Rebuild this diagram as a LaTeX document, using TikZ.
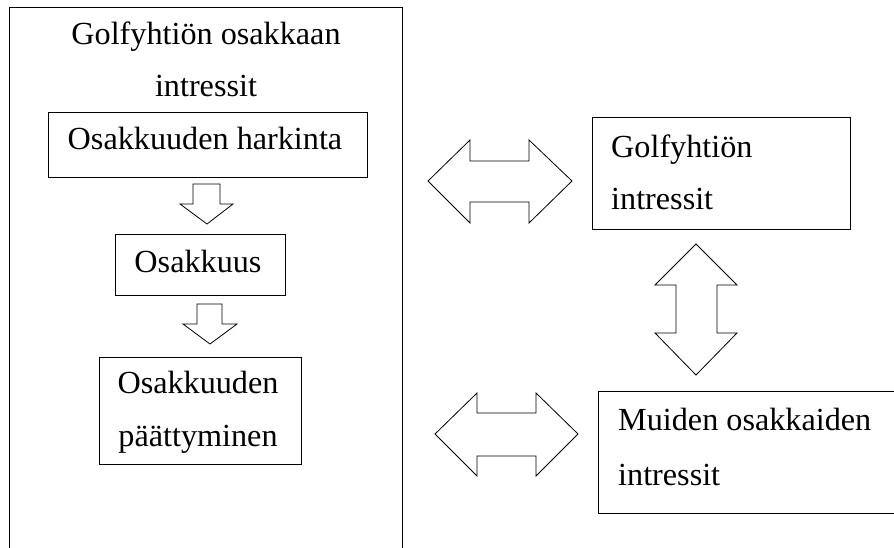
\documentclass[tikz,border=0pt]{standalone}
\usepackage{fontspec}
\setmainfont{Liberation Serif}
\begin{document}
\begin{tikzpicture}[x=1pt,y=-1pt,
  box/.style={draw, line width=1pt, inner sep=0pt, fill=none},
  framepath/.style={draw, line width=1pt},
  blockarrow/.style={draw, line width=0.8pt, fill=white, line join=miter},
  txt/.style={font=\fontsize{32.2}{40}\selectfont, inner sep=0pt, anchor=base},
  ltxt/.style={txt, anchor=base west}]
\useasboundingbox (0,0) rectangle (894,548);

% outer frame (open at the bottom)
\path[framepath] (9.5,560) -- (9.5,7.5) -- (402,7.5) -- (402,560);
\node[txt] (title1) at (206,45) {Golfyhtiön osakkaan};
\node[txt] (title2) at (206,97) {intressit};

% left column boxes
\node[box, minimum width=319, minimum height=65] (harkinta) at (207.5,145.5) {};
\node[txt] (harkintaT) at (205,150) {Osakkuuden harkinta};

\node[box, minimum width=170, minimum height=61] (osakkuus) at (200,264.5) {};
\node[txt] (osakkuusT) at (198,272) {Osakkuus};

\node[box, minimum width=202, minimum height=107] (paatt) at (200,410.5) {};
\node[txt] (paattT1) at (198,393) {Osakkuuden};
\node[txt] (paattT2) at (198,446) {päättyminen};

% down block arrows
\path[blockarrow] (193,184) -- (220,184) -- (220,204) -- (233,204) -- (207,224)
  -- (180,204) -- (193,204) -- cycle;
\path[blockarrow] (197,304) -- (222,304) -- (222,324) -- (237,324) -- (210,344)
  -- (183,324) -- (197,324) -- cycle;

% right boxes
\node[box, minimum width=258, minimum height=112] (golf) at (721,174) {};
\node[ltxt] (golfT1) at (611,158) {Golfyhtiön};
\node[ltxt] (golfT2) at (611,210) {intressit};

\path[framepath] (900,391) -- (598,391) -- (598,513) -- (900,513);
\coordinate (muiden) at (746,452);
\node[ltxt] (muidenT1) at (618,430) {Muiden osakkaiden};
\node[ltxt] (muidenT2) at (618,485) {intressit};

% horizontal double block arrows
\path[blockarrow] (428,181) -- (470,140) -- (470,161) -- (529,161) -- (529,140)
  -- (572,181) -- (529,223) -- (529,202) -- (470,202) -- (470,223) -- cycle;
\path[blockarrow] (435,434) -- (477,393) -- (477,413) -- (536,413) -- (536,393)
  -- (578,434) -- (536,476) -- (536,456) -- (477,456) -- (477,476) -- cycle;

% vertical double block arrow
\path[blockarrow] (696,244) -- (737,285) -- (717,285) -- (717,333) -- (737,333)
  -- (696,375) -- (655,333) -- (676,333) -- (676,285) -- (655,285) -- cycle;
\end{tikzpicture}
\end{document}
